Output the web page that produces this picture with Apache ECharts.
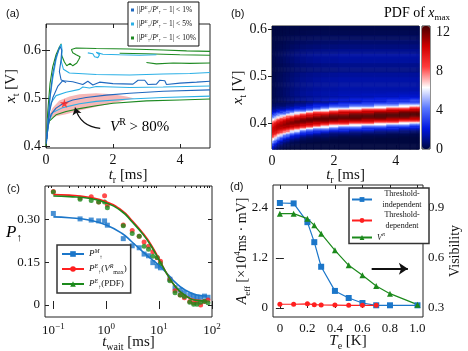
<!DOCTYPE html>
<html>
<head>
<meta charset="utf-8">
<script src="https://cdn.jsdelivr.net/npm/echarts@6/dist/echarts.min.js"></script>
<style>
  html, body { margin: 0; padding: 0; background: #fff; }
  #chart { width: 468px; height: 351px; }
</style>
</head>
<body>
<div id="chart"></div>
<script>
const SERIF = 'Liberation Serif'
const SANS = 'Liberation Sans'
const INK = '#111'

// ---------- (a) contour lines, points are [t_r (ms), x_t (V)]
const tol1Low = [[0.01, 0.405], [0.05, 0.44], [0.15, 0.466], [0.3, 0.479], [0.5, 0.488], [0.8, 0.496], [1.2, 0.501], [1.8, 0.506], [2.5, 0.51], [3.5, 0.514], [4.9, 0.517]]
const tol1Mid = [[0.03, 0.42], [0.1, 0.47], [0.2, 0.5], [0.35, 0.524], [0.5, 0.536], [0.8, 0.534], [1.1, 0.528], [1.25, 0.535], [1.4, 0.527], [1.6, 0.533], [2, 0.53], [2.6, 0.529], [2.75, 0.537], [2.95, 0.537], [3.05, 0.528], [3.3, 0.529], [3.4, 0.537], [3.55, 0.536], [3.6, 0.528], [4, 0.531], [4.5, 0.533], [4.9, 0.535]]
const tol1Peak = [[0.03, 0.415], [0.1, 0.49], [0.2, 0.55], [0.3, 0.585], [0.42, 0.607], [0.47, 0.6], [0.45, 0.58], [0.4, 0.555], [0.45, 0.538], [0.6, 0.532]]
const tol5Low = [[0.01, 0.41], [0.08, 0.45], [0.2, 0.47], [0.5, 0.48], [1, 0.488], [1.5, 0.493], [2.5, 0.498], [3.5, 0.501], [4.9, 0.504]]
const tol5Step = [[0.02, 0.41], [0.06, 0.455], [0.15, 0.49], [0.3, 0.505], [0.6, 0.512], [1.0, 0.518], [1.1, 0.523], [1.3, 0.521], [1.5, 0.524], [2.5, 0.522], [3.5, 0.523], [4.9, 0.525]]
const tol5Mid = [[0.05, 0.43], [0.12, 0.5], [0.2, 0.54], [0.3, 0.58], [0.4, 0.605], [0.46, 0.612], [0.48, 0.598], [0.46, 0.575], [0.52, 0.56], [0.7, 0.552], [1.5, 0.549], [2.5, 0.548], [3.5, 0.55], [4.3, 0.551], [4.9, 0.553]]
const tol5Top = [[1.25, 0.594], [1.4, 0.592], [1.45, 0.586], [1.55, 0.584], [1.6, 0.59], [1.5, 0.595], [1.7, 0.591], [2.2, 0.59], [2.8, 0.589], [3.3, 0.59]]
const tol10Low = [[0.0, 0.4], [0.03, 0.43], [0.1, 0.452], [0.3, 0.465], [0.6, 0.472], [1, 0.478], [1.5, 0.484], [2, 0.489], [3, 0.494], [4, 0.496], [4.9, 0.498]]
const tol10Left = [[0.01, 0.41], [0.05, 0.47], [0.12, 0.53], [0.2, 0.565], [0.3, 0.59], [0.4, 0.606], [0.46, 0.613]]
const tol10Top = [[0.46, 0.59], [0.55, 0.575], [0.62, 0.567], [0.72, 0.572], [0.8, 0.567], [0.92, 0.573], [0.98, 0.58], [1.02, 0.586], [0.9, 0.59], [0.8, 0.594], [0.76, 0.601], [0.9, 0.604], [1.5, 0.603], [2.5, 0.602], [3.5, 0.6], [4.2, 0.598], [4.9, 0.597]]
const tol10Upper = [[2.2, 0.593], [3, 0.592], [4, 0.59], [4.9, 0.589]]
const tol10Right = [[3.0, 0.574], [3.3, 0.571], [3.8, 0.573], [4.3, 0.572], [4.9, 0.573]]
// V^R > 80% region outline
const vr80Region = [[0.08, 0.462], [0.2, 0.48], [0.4, 0.495], [0.7, 0.503], [1.0, 0.508], [1.5, 0.51], [2.0, 0.508], [2.4, 0.503], [2.65, 0.499], [2.4, 0.496], [2.0, 0.489], [1.5, 0.482], [1.0, 0.474], [0.6, 0.466], [0.3, 0.462], [0.12, 0.458]]
const bestPoint = [[0.55, 0.489]]
const arrowA = [[1.62, 0.437], [0.87, 0.48]]

// ---------- (b) PDF of x_max : ridge read per t_r column
const bandX = [0, 0.05, 0.1, 0.15, 0.2, 0.3, 0.4, 0.5, 0.65, 0.8, 1.0, 1.2, 1.45, 1.7, 2.0, 2.3, 2.7, 3.1, 3.5, 3.9, 4.3, 4.6, 4.75]
const bandCenter = [0.386, 0.388, 0.39, 0.392, 0.394, 0.396, 0.398, 0.4, 0.402, 0.404, 0.406, 0.408, 0.41, 0.411, 0.413, 0.414, 0.415, 0.416, 0.417, 0.418, 0.419, 0.42, 0.42]
const bandHalf = [0.025, 0.024, 0.023, 0.023, 0.022, 0.021, 0.02, 0.02, 0.019, 0.019, 0.018, 0.018, 0.018, 0.018, 0.018, 0.018, 0.018, 0.018, 0.018, 0.018, 0.018, 0.018, 0.018]
const bandPeak = [10.2, 10.5, 10.7, 10.9, 11, 11.2, 11.4, 11.6, 11.7, 11.9, 12, 12.1, 12.2, 12.2, 12.3, 12.3, 12.4, 12.4, 12.5, 12.5, 12.5, 12.5, 12.5]
const hazeScale = [0.1, 0.12, 0.15, 0.2, 0.25, 0.3, 0.38, 0.45, 0.55, 0.65, 0.75, 0.82, 0.88, 0.92, 0.95, 1, 1, 1, 1, 1, 1, 1, 1]
// fraction of the peak against distance from the ridge, in steps of 0.125 half-widths
const bandProfile = [1, 0.99, 0.96, 0.92, 0.86, 0.78, 0.69, 0.6, 0.5, 0.41, 0.33, 0.26, 0.2, 0.15, 0.11, 0.08, 0.055, 0.04, 0.025, 0.017, 0.01, 0.005, 0]
// faint stripes above the ridge
const hazeY = [0.345, 0.44, 0.45, 0.46, 0.47, 0.48, 0.49, 0.5, 0.51, 0.52, 0.53, 0.54, 0.55, 0.56, 0.57, 0.58, 0.59, 0.6]
const hazeVal = [0, 0.5, 1.3, 1.5, 1.4, 1.3, 1.35, 1.2, 0.9, 1.0, 1.25, 1.3, 1.05, 0.8, 0.6, 0.4, 0.25, 0.15]
const pdfMax = 12.6

// ---------- (c) P_up vs t_wait
const tWait = [0.1, 0.32, 0.52, 0.72, 0.93, 1.05, 2.1, 3.1, 4.2, 5.2, 6.3, 7.6, 9.2, 10.6, 16, 20, 25, 30, 38, 45, 52, 61, 72, 84]
const pM = [0.32, 0.301, 0.297, 0.294, 0.294, 0.279, 0.232, 0.207, 0.2, 0.178, 0.172, 0.148, 0.136, 0.13, 0.09, 0.06, 0.052, 0.043, 0.035, 0.03, 0.027, 0.027, 0.031, 0.027]
const pEv = [0.397, 0.374, 0.378, 0.36, 0.382, 0.35, 0.28, 0.26, 0.24, 0.22, 0.205, 0.186, 0.165, 0.153, 0.09, 0.05, 0.035, 0.025, 0.012, 0.008, 0.01, 0.0, 0.012, 0.017]
const pEpdf = [0.395, 0.37, 0.365, 0.36, 0.36, 0.34, 0.277, 0.25, 0.24, 0.205, 0.195, 0.17, 0.166, 0.145, 0.085, 0.043, 0.035, 0.03, 0.01, 0.003, 0.003, 0.01, 0.013, 0.008]
const fitT = [0.1, 0.2, 0.5, 1, 2, 3, 5, 7, 10, 15, 20, 30, 50, 80]
const fitM = [0.308, 0.305, 0.296, 0.28, 0.25, 0.222, 0.185, 0.162, 0.138, 0.105, 0.08, 0.054, 0.036, 0.031]
const fitEv = [0.386, 0.384, 0.376, 0.361, 0.33, 0.297, 0.25, 0.212, 0.16, 0.1, 0.066, 0.035, 0.017, 0.015]
const fitEpdf = [0.381, 0.379, 0.372, 0.357, 0.326, 0.293, 0.246, 0.207, 0.157, 0.1, 0.066, 0.035, 0.016, 0.014]

// ---------- (d) A_eff and visibility vs T_e
const teK = [0, 0.1, 0.2, 0.25, 0.3, 0.4, 0.5, 0.6, 0.7, 0.8, 1.0]
const aIndep = [2.52, 2.51, 2.06, 1.58, 0.99, 0.41, 0.24, 0.12, 0.065, 0.065, 0.065]
const teDep = [0, 0.1, 0.2, 0.25, 0.3, 0.4, 0.5, 0.6, 0.7]
const aDep = [0.09, 0.09, 0.1, 0.08, 0.075, 0.07, 0.065, 0.065, 0.065]
const visR = [0.866, 0.866, 0.836, 0.796, 0.746, 0.646, 0.556, 0.496, 0.432, 0.386, 0.32]
const arrowD = [[0.667, 0.94], [0.93, 0.94]]

const logMinor = [0.08, 0.09, 0.2, 0.3, 0.4, 0.5, 0.6, 0.7, 0.8, 0.9, 2, 3, 4, 5, 6, 7, 8, 9, 20, 30, 40, 50, 60, 70, 80, 90]

function mkRich(fs) {
  const lh = Math.round(fs * 1.35)
  const s = Math.round(fs * 0.66)
  return {
    n: { fontFamily: SERIF, fontSize: fs, lineHeight: lh, color: INK },
    i: { fontFamily: SERIF, fontSize: fs, lineHeight: lh, fontStyle: 'italic', color: INK },
    sub: { fontFamily: SERIF, fontSize: s, lineHeight: s, verticalAlign: 'bottom', color: INK },
    sup: { fontFamily: SERIF, fontSize: s, lineHeight: s, verticalAlign: 'top', color: INK },
    isup: { fontFamily: SERIF, fontSize: s, lineHeight: s, verticalAlign: 'top', fontStyle: 'italic', color: INK },
    c: { fontFamily: SERIF, fontSize: fs, lineHeight: lh, color: INK, width: 50, align: 'center' }
  }
}

const tick = { show: true, inside: true, length: 4, lineStyle: { color: '#222', width: 1 } }
const minorTick = { show: true, inside: true, length: 2, lineStyle: { color: '#222', width: 1 } }
const label = fs => ({ fontFamily: SERIF, fontSize: fs, color: INK, margin: 5 })
const nameStyle = fs => ({ fontFamily: SERIF, fontSize: fs, color: INK, rich: mkRich(fs) })

function valAxis(grid, min, max, ticks, extra) {
  return Object.assign({
    gridIndex: grid,
    type: 'value',
    min: min,
    max: max,
    nameMoveOverlap: false,
    axisLine: { show: false },
    splitLine: { show: false },
    axisTick: Object.assign({ customValues: ticks }, tick),
    axisLabel: Object.assign({ customValues: ticks }, label(14))
  }, extra || {})
}
function mirror(ax, pos) {
  const m = Object.assign({}, ax)
  m.position = pos
  m.name = ''
  m.axisLabel = { show: false }
  return m
}

// ---------- axes
const axA_x = valAxis(0, 0, 4.9, [0, 2, 4], {
  name: '{i|t}{sub|r}{n| [ms]}', nameLocation: 'middle', nameGap: 17, nameTextStyle: nameStyle(15)
})
const axB_x = valAxis(1, 0, 4.75, [0, 2, 4], {
  name: '{i|t}{sub|r}{n| [ms]}', nameLocation: 'middle', nameGap: 16, nameTextStyle: nameStyle(15)
})
const axC_x = {
  gridIndex: 3, type: 'log', logBase: 10, min: 0.0695, max: 100, nameMoveOverlap: false,
  axisLine: { show: false }, splitLine: { show: false },
  axisTick: Object.assign({ customValues: [0.1, 1, 10, 100] }, tick),
  axisLabel: Object.assign({
    customValues: [0.1, 1, 10, 100],
    formatter: v => { const e = Math.round(Math.log10(v)); return '{n|10}{sup|' + (e < 0 ? '−' + (-e) : e) + '}' },
    rich: mkRich(13)
  }, label(13)),
  name: '{i|t}{sub|wait}{n| [ms]}', nameLocation: 'middle', nameGap: 15, nameTextStyle: nameStyle(15)
}
const axC_xMinor = {
  gridIndex: 3, type: 'log', logBase: 10, min: 0.0695, max: 100,
  axisLine: { show: false }, splitLine: { show: false }, axisLabel: { show: false },
  axisTick: Object.assign({ customValues: logMinor }, minorTick)
}
const axD_x = valAxis(4, -0.05, 1.04, [0, 0.2, 0.4, 0.6, 0.8, 1.0], {
  name: '{i|T}{sub|e}{n| [K]}', nameLocation: 'middle', nameGap: 14, nameTextStyle: nameStyle(15)
})
axD_x.axisLabel.formatter = v => (v === 0 ? '0' : v.toFixed(1))
axD_x.axisLabel.fontSize = 13

const xAxes = [
  axA_x, mirror(axA_x, 'top'),
  axB_x, mirror(axB_x, 'top'),
  { gridIndex: 2, type: 'value', min: 0, max: 1, show: false },
  axC_x, mirror(axC_x, 'top'),
  axC_xMinor, mirror(axC_xMinor, 'top'),
  axD_x, mirror(axD_x, 'top')
]

const axA_y = valAxis(0, 0.396, 0.654, [0.4, 0.5, 0.6], {
  name: '{i|x}{sub|t}{n| [V]}', nameLocation: 'middle', nameGap: 25, nameTextStyle: nameStyle(15)
})
axA_y.axisLabel.formatter = v => v.toFixed(1)
const axB_y = valAxis(1, 0.345, 0.607, [0.4, 0.5, 0.6], {
  name: '{i|x}{sub|t}{n| [V]}', nameLocation: 'middle', nameGap: 24, nameTextStyle: nameStyle(15)
})
axB_y.axisLabel.formatter = v => v.toFixed(1)
const axCb_y = valAxis(2, 0, pdfMax, [0, 4, 8, 12], { position: 'right' })
axCb_y.axisTick = { show: false }
axCb_y.axisLabel.margin = 6
const axC_y = valAxis(3, -0.042, 0.416, [0, 0.15, 0.3])
axC_y.axisLabel.formatter = v => (v === 0 ? '0' : v.toFixed(2))
axC_y.axisLabel.fontSize = 13
const axD_yl = valAxis(4, -0.216, 2.952, [0, 1.2, 2.4], {
  name: '{i|A}{sub|eff}{n| [×10}{sup|4}{n|ms · mV]}', nameLocation: 'middle', nameGap: 21, nameTextStyle: nameStyle(14)
})
axD_yl.axisLabel.formatter = v => (v === 0 ? '0' : v.toFixed(1))
axD_yl.axisLabel.fontSize = 13
const axD_yr = valAxis(4, 0.246, 1.038, [0.3, 0.6, 0.9], {
  position: 'right', name: 'Visibility', nameLocation: 'middle', nameGap: 25, nameTextStyle: nameStyle(14)
})
axD_yr.axisLabel.formatter = v => v.toFixed(1)
axD_yr.axisLabel.fontSize = 13

const yAxes = [
  axA_y, mirror(axA_y, 'right'),
  axB_y, mirror(axB_y, 'right'),
  axCb_y,
  axC_y, mirror(axC_y, 'right'),
  axD_yl, axD_yr
]

// ---------- series
const series = []
const blue1 = '#1f68bf'
const cyan5 = '#2bb0e6'
const green10 = '#1e8a22'

series.push({
  type: 'custom', xAxisIndex: 0, yAxisIndex: 0, silent: true, z: 1, clip: true,
  data: [0],
  renderItem: (params, api) => ({
    type: 'polygon',
    shape: { points: vr80Region.map(p => api.coord(p)) },
    style: { fill: '#f6b7b7' }
  })
})
const contours = [
  ['tol10', green10, tol10Low], ['tol10', green10, tol10Left], ['tol10', green10, tol10Top],
  ['tol10', green10, tol10Upper], ['tol10', green10, tol10Right],
  ['tol5', cyan5, tol5Low], ['tol5', cyan5, tol5Step], ['tol5', cyan5, tol5Mid], ['tol5', cyan5, tol5Top],
  ['tol1', blue1, tol1Low], ['tol1', blue1, tol1Mid], ['tol1', blue1, tol1Peak]
]
contours.forEach(([name, color, pts]) => {
  series.push({
    type: 'line', name: name, xAxisIndex: 0, yAxisIndex: 0, data: pts,
    symbol: 'none', lineStyle: { color: color, width: 1.1 }, itemStyle: { color: color },
    clip: true, z: 3
  })
})
series.push({
  type: 'scatter', xAxisIndex: 0, yAxisIndex: 0, data: bestPoint, z: 5,
  symbol: 'path://M50,0 L61,35 L98,35 L68,57 L79,91 L50,70 L21,91 L32,57 L2,35 L39,35 Z',
  symbolSize: 9, itemStyle: { color: '#ff1a1a' }
})
series.push({
  type: 'lines', coordinateSystem: 'cartesian2d', xAxisIndex: 0, yAxisIndex: 0, z: 5,
  data: [{ coords: arrowA }],
  symbol: ['none', 'arrow'], symbolSize: 7,
  lineStyle: { color: INK, width: 1.3, opacity: 1, curveness: 0.35 }
})

// heatmap cells for (b)
const pdfCells = []
for (let j = 0; j < bandX.length; j++) {
  const x0 = j === 0 ? 0 : (bandX[j - 1] + bandX[j]) / 2
  const x1 = j === bandX.length - 1 ? 4.75 : (bandX[j] + bandX[j + 1]) / 2
  for (let y0 = 0.345; y0 < 0.607; y0 += 0.002) {
    const yc = y0 + 0.001
    const u = Math.abs(yc - bandCenter[j]) / bandHalf[j]
    const k = Math.round(u / 0.125)
    const ridge = k < bandProfile.length ? bandProfile[k] * bandPeak[j] : 0
    let h = 0
    for (let m = 0; m < hazeY.length; m++) if (hazeY[m] <= yc) h = hazeVal[m]
    pdfCells.push([x0, x1, y0, Math.min(y0 + 0.002, 0.607), Math.min(pdfMax, ridge + h * hazeScale[j])])
  }
}
const heatIndex = series.length
series.push({
  type: 'custom', xAxisIndex: 2, yAxisIndex: 2, silent: true, clip: true,
  encode: { x: [0, 1], y: [2, 3] },
  data: pdfCells,
  renderItem: (params, api) => {
    const a = api.coord([api.value(0), api.value(3)])
    const b = api.coord([api.value(1), api.value(2)])
    return {
      type: 'rect',
      shape: { x: a[0], y: a[1], width: b[0] - a[0] + 0.6, height: b[1] - a[1] + 0.6 },
      style: { fill: api.visual('color') }
    }
  }
})

// (c)
const pair = (xs, ys) => xs.map((x, i) => [x, ys[i]])
const cBlue = '#1b76c9'
const cRed = '#ff1f1f'
const cGreen = '#1c8a1c'
;[
  ['pm', cBlue, 'rect', pM],
  ['pv', cRed, 'circle', pEv],
  ['pp', cGreen, 'circle', pEpdf]
].forEach(([name, color, sym, pts]) => {
  series.push({
    type: 'scatter', name: name + '_pts', xAxisIndex: 5, yAxisIndex: 5,
    data: pair(tWait, pts), symbol: sym, symbolSize: 5,
    itemStyle: { color: color }, z: 3
  })
})
;[
  ['pm', cBlue, 'rect', fitM],
  ['pv', cRed, 'circle', fitEv],
  ['pp', cGreen, 'triangle', fitEpdf]
].forEach(([name, color, sym, fit]) => {
  series.push({
    type: 'line', name: name, xAxisIndex: 5, yAxisIndex: 5, smooth: true,
    data: pair(fitT, fit), symbol: sym, symbolSize: 6, showSymbol: false,
    lineStyle: { color: color, width: 1.6 }, itemStyle: { color: color }, z: 4
  })
})

// (d)
series.push({
  type: 'line', name: 'ti', xAxisIndex: 9, yAxisIndex: 7, data: pair(teK, aIndep),
  symbol: 'rect', symbolSize: 6, lineStyle: { color: cBlue, width: 1.2 }, itemStyle: { color: cBlue }
})
series.push({
  type: 'line', name: 'td', xAxisIndex: 9, yAxisIndex: 7, data: pair(teDep, aDep),
  symbol: 'circle', symbolSize: 5, lineStyle: { color: cRed, width: 1.2 }, itemStyle: { color: cRed }
})
series.push({
  type: 'line', name: 'vr', xAxisIndex: 9, yAxisIndex: 8, data: pair(teK, visR),
  symbol: 'triangle', symbolSize: 6, lineStyle: { color: cGreen, width: 1.2 }, itemStyle: { color: cGreen }
})
series.push({
  type: 'lines', coordinateSystem: 'cartesian2d', xAxisIndex: 9, yAxisIndex: 7, z: 5,
  data: [{ coords: arrowD }],
  symbol: ['none', 'arrow'], symbolSize: 9,
  lineStyle: { color: INK, width: 1.8, opacity: 1 }
})

const legendNames = {
  tol1: '{n|||}{i|P}{isup|E}{sub|↑}{n|/}{i|P}{isup|I}{sub|↑}{n| − 1| < 1%}',
  tol5: '{n|||}{i|P}{isup|E}{sub|↑}{n|/}{i|P}{isup|I}{sub|↑}{n| − 1| < 5%}',
  tol10: '{n|||}{i|P}{isup|E}{sub|↑}{n|/}{i|P}{isup|I}{sub|↑}{n| − 1| < 10%}',
  pm: '{i|P}{isup|M}{sub|↑}',
  pv: '{i|P}{isup|E}{sub|↑}{n|(}{i|V}{isup|R}{sub|max}{n|)}',
  pp: '{i|P}{isup|E}{sub|↑}{n|(PDF)}',
  ti: '{c|Threshold-}\n{c|independent}',
  td: '{c|Threshold-}\n{c|dependent}',
  vr: '{i|V}{isup|R}'
}

const option = {
  animation: false,
  backgroundColor: '#fff',
  grid: [
    { left: 46, top: 24, width: 164, height: 124 },
    { left: 272, top: 26, width: 147, height: 123 },
    { left: 422, top: 26, width: 8, height: 123 },
    { left: 45, top: 186, width: 167, height: 131 },
    { left: 273, top: 185, width: 150, height: 132 }
  ].map(g => Object.assign({ show: true, borderColor: '#222', borderWidth: 1, backgroundColor: 'transparent', outerBoundsMode: 'none' }, g)),
  xAxis: xAxes,
  yAxis: yAxes,
  visualMap: [{
    type: 'continuous', seriesIndex: heatIndex, dimension: 4, min: 0, max: pdfMax,
    calculable: false, hoverLink: false, orient: 'vertical',
    left: 422, top: 26, itemWidth: 8, itemHeight: 123, padding: 0, text: null,
    inRange: { color: ['#000840', '#0018e0', '#5a78ff', '#ffffff', '#ff3c3c', '#d00000', '#4a0000'] }
  }],
  legend: [
    {
      data: ['tol1', 'tol5', 'tol10'], orient: 'vertical', left: 128, top: 2,
      icon: 'rect', itemWidth: 3, itemHeight: 3, itemGap: 4,
      padding: [3, 3, 3, 3], backgroundColor: '#fff', borderColor: '#111', borderWidth: 1,
      formatter: n => legendNames[n], textStyle: { rich: mkRich(7.5), padding: [0, 0, 0, -2] }
    },
    {
      data: ['pm', 'pv', 'pp'], orient: 'vertical', left: 57, top: 245,
      itemWidth: 22, itemHeight: 7, itemGap: 3,
      padding: [3, 4, 3, 4], backgroundColor: '#fff', borderColor: '#333', borderWidth: 1.5,
      formatter: n => legendNames[n], textStyle: { rich: mkRich(9) }
    },
    {
      data: ['ti', 'td', 'vr'], orient: 'vertical', left: 349, top: 188,
      itemWidth: 20, itemHeight: 6, itemGap: 2,
      padding: [2, 2, 2, 2], backgroundColor: '#fff', borderColor: '#333', borderWidth: 1.5,
      formatter: n => legendNames[n], textStyle: { rich: mkRich(8) }
    }
  ],
  graphic: [
    { type: 'text', left: 6, top: 8, style: { text: '(a)', font: '11px ' + SANS, fill: INK } },
    { type: 'text', left: 231, top: 8, style: { text: '(b)', font: '11px ' + SANS, fill: INK } },
    { type: 'text', left: 7, top: 183, style: { text: '(c)', font: '11px ' + SANS, fill: INK } },
    { type: 'text', left: 230, top: 181, style: { text: '(d)', font: '11px ' + SANS, fill: INK } },
    { type: 'text', left: 384, top: 6, style: { text: '{n|PDF of }{i|x}{sub|max}', rich: mkRich(14) } },
    { type: 'text', left: 110, top: 117, style: { text: '{i|V}{sup|R}{n| > 80%}', rich: mkRich(15) } },
    { type: 'text', left: 6, top: 224, style: { text: '{i|P}{sub|↑}', rich: mkRich(17) } }
  ],
  series: series
}

const chart = echarts.init(document.getElementById('chart'), null, { renderer: 'canvas' })
chart.setOption(option)
</script>
</body>
</html>
